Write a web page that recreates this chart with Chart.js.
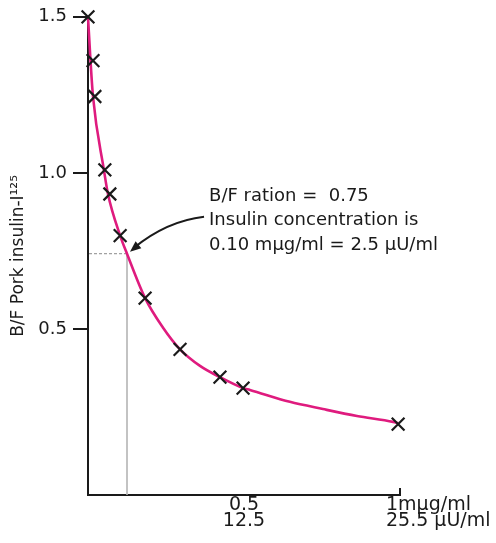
<!DOCTYPE html>
<html><head><meta charset="utf-8">
<script src="https://cdn.jsdelivr.net/npm/chart.js@4/dist/chart.umd.min.js"></script>
<style>html,body{margin:0;padding:0;background:#fff;}</style>
</head><body>
<canvas id="c" width="496" height="543" style="display:block;width:496px;height:543px"></canvas>
<script>
// ---- data ----
const concentration = [0.0, 0.016, 0.022, 0.054, 0.07, 0.103, 0.183, 0.295, 0.423, 0.497, 0.994];
const bfRatio       = [1.50, 1.36, 1.245, 1.01, 0.933, 0.80, 0.60, 0.436, 0.347, 0.312, 0.197];
const curveX = [0, 0.008, 0.016, 0.051, 0.064, 0.103, 0.125, 0.183, 0.240, 0.295, 0.359, 0.423, 0.497, 0.519, 0.647, 0.753, 0.862, 0.978, 0.994];
const curveY = [1.5, 1.36, 1.245, 1.01, 0.933, 0.80, 0.742, 0.60, 0.506, 0.436, 0.383, 0.347, 0.312, 0.306, 0.268, 0.245, 0.223, 0.204, 0.20];
const yTicks = [0.5, 1.0, 1.5];
const xTicks = [0.5, 1];
const xTickLabels = [['0.5', '12.5'], ['1mµg/ml', '25.5 µU/ml']];
const refPoint = [0.125, 0.742];
const noteLines = ['B/F ration =  0.75', 'Insulin concentration is', '0.10 mµg/ml = 2.5 µU/ml'];
const yTitle = 'B/F Pork insulin-I¹²⁵';

const FONT = 'DejaVu Sans';
const INK = '#1a1a1a';

const annot = {
  id: 'annot',
  beforeDatasetsDraw(chart) {
    const {ctx, scales: {x, y}} = chart;
    const px = x.getPixelForValue(refPoint[0]), py = y.getPixelForValue(refPoint[1]);
    ctx.save();
    ctx.strokeStyle = '#8a8a8a'; ctx.lineWidth = 1; ctx.setLineDash([3, 2]);
    ctx.beginPath(); ctx.moveTo(x.left + 1, py); ctx.lineTo(px, py); ctx.stroke();
    ctx.setLineDash([]); ctx.strokeStyle = '#b4b4b4'; ctx.lineWidth = 1.6;
    ctx.beginPath(); ctx.moveTo(px, py); ctx.lineTo(px, y.bottom); ctx.stroke();
    ctx.restore();
  },
  afterDraw(chart) {
    const {ctx, scales: {x, y}} = chart;
    ctx.save();
    // small upward tick at x end
    ctx.strokeStyle = INK; ctx.lineWidth = 2;
    const xe = x.getPixelForValue(xTicks[xTicks.length - 1]);
    ctx.beginPath(); ctx.moveTo(xe, y.bottom); ctx.lineTo(xe, y.bottom - 7); ctx.stroke();
    // x tick labels
    ctx.fillStyle = INK; ctx.font = '19px "' + FONT + '"'; ctx.textBaseline = 'alphabetic';
    xTicks.forEach((v, i) => {
      const p = x.getPixelForValue(v);
      const last = i === xTicks.length - 1;
      ctx.textAlign = last ? 'left' : 'center';
      const tx = last ? p - 14 : p;
      xTickLabels[i].forEach((s, j) => ctx.fillText(s, tx, y.bottom + 15 + j * 16));
    });
    // annotation text
    ctx.font = '18px "' + FONT + '"'; ctx.textAlign = 'left';
    const tx0 = x.getPixelForValue(0.388);
    const ty0 = y.getPixelForValue(refPoint[1]) - 53;
    noteLines.forEach((s, j) => ctx.fillText(s, tx0, ty0 + j * 24.5));
    // arrow
    const px = x.getPixelForValue(refPoint[0]) + 3, py = y.getPixelForValue(refPoint[1]) - 2;
    const sx = tx0 - 5, sy = ty0 + 16;
    const cx = 167, cy = 221;
    ctx.strokeStyle = INK; ctx.lineWidth = 2;
    ctx.beginPath(); ctx.moveTo(sx, sy); ctx.quadraticCurveTo(cx, cy, px + 4, py - 4); ctx.stroke();
    const ang = Math.atan2(py - cy, px - cx);
    const L = 11, W = 4.5;
    ctx.fillStyle = INK;
    ctx.beginPath();
    ctx.moveTo(px, py);
    ctx.lineTo(px - L * Math.cos(ang) + W * Math.sin(ang), py - L * Math.sin(ang) - W * Math.cos(ang));
    ctx.lineTo(px - L * Math.cos(ang) - W * Math.sin(ang), py - L * Math.sin(ang) + W * Math.cos(ang));
    ctx.closePath(); ctx.fill();
    ctx.restore();
  }
};

new Chart(document.getElementById('c'), {
  type: 'scatter',
  data: {
    datasets: [
      {
        data: concentration.map((v, i) => ({x: v, y: bfRatio[i]})),
        showLine: false, pointStyle: 'crossRot', pointRadius: 9,
        borderColor: INK, backgroundColor: INK, borderWidth: 2.2, clip: false
      },
      {
        data: curveX.map((v, i) => ({x: v, y: curveY[i]})),
        showLine: true, pointRadius: 0, borderColor: '#DF1B7E', borderWidth: 2.6,
        cubicInterpolationMode: 'monotone', clip: false
      }
    ]
  },
  options: {
    responsive: false, animation: false, events: [],
    devicePixelRatio: 1,
    layout: {padding: {top: 15, right: 96, left: 0, bottom: 0}},
    plugins: {legend: {display: false}, tooltip: {enabled: false}},
    scales: {
      x: {
        type: 'linear', min: 0, max: 1,
        afterBuildTicks: s => { s.ticks = xTicks.map(v => ({value: v})); },
        afterFit: s => { s.height = 48; },
        grid: {display: false},
        border: {display: true, color: INK, width: 2},
        ticks: {display: false}
      },
      y: {
        type: 'linear', min: -0.03, max: 1.5,
        afterBuildTicks: s => { s.ticks = yTicks.map(v => ({value: v})); },
        afterFit: s => { s.width = 88; },
        grid: {display: true, drawOnChartArea: false, drawTicks: true, tickLength: 15, color: INK, lineWidth: 2},
        border: {display: true, color: INK, width: 2},
        ticks: {color: INK, font: {family: FONT, size: 18}, padding: 6, callback: v => v.toFixed(1)},
        title: {display: true, text: yTitle, color: INK, font: {family: FONT, size: 17}, padding: {top: 8, bottom: 0}}
      }
    }
  },
  plugins: [annot]
});
</script>
</body></html>
